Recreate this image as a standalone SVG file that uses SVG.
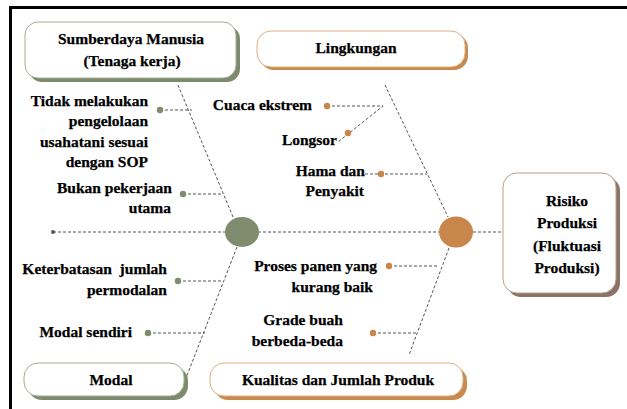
<svg xmlns="http://www.w3.org/2000/svg" width="627" height="409" viewBox="0 0 627 409">
<style>
.t{font-family:"Liberation Serif","Times New Roman",serif;font-weight:bold;font-size:15.5px;fill:#000;stroke:#000;stroke-width:0.25}
.e{text-anchor:end}
.m{text-anchor:middle}
.d{fill:none;stroke:#555;stroke-width:1;stroke-dasharray:3 2}
.box{fill:#fff;stroke-width:1}
.gd{fill:#7f8c6d}
.od{fill:#c8864a}
</style>
<rect width="627" height="409" fill="#fff"/>
<path d="M9 7.5H627M10.5 6V409" stroke="#000" stroke-width="3" fill="none"/>
<g id="connectors">
<line class="d" x1="53" y1="232" x2="503" y2="232"/>
<circle cx="53" cy="232" r="2" fill="#555"/>
<line class="d" x1="178" y1="85" x2="233" y2="217"/>
<line class="d" x1="237" y1="247" x2="186" y2="378"/>
<line class="d" x1="385" y1="85" x2="448" y2="217"/>
<line class="d" x1="449" y1="248" x2="409" y2="355"/>
<line class="d" x1="160" y1="110" x2="192" y2="110"/>
<line class="d" x1="183" y1="194" x2="223" y2="194"/>
<line class="d" x1="178" y1="281" x2="223" y2="281"/>
<line class="d" x1="148" y1="333" x2="205" y2="333"/>
<polyline class="d" points="327,106 383,106 348,134 338,142"/>
<line class="d" x1="365" y1="174" x2="427" y2="174"/>
<line class="d" x1="389" y1="266" x2="438" y2="266"/>
<line class="d" x1="373" y1="333" x2="416" y2="333"/>
<circle class="gd" cx="160" cy="110" r="3.2"/>
<circle class="gd" cx="183" cy="194" r="3.2"/>
<circle class="gd" cx="178" cy="281" r="3.2"/>
<circle class="gd" cx="148" cy="333" r="3.2"/>
<circle class="od" cx="327" cy="106" r="3.2"/>
<circle class="od" cx="348" cy="133" r="3.2"/>
<circle class="od" cx="381" cy="174" r="3.2"/>
<circle class="od" cx="389" cy="266" r="3.2"/>
<circle class="od" cx="373" cy="333" r="3.2"/>
</g>
<g id="node-green-joint"><ellipse class="gd" cx="242" cy="232" rx="17" ry="15"/></g>
<g id="node-orange-joint"><ellipse class="od" cx="456" cy="232" rx="17" ry="15.5"/></g>
<g id="node-sdm">
<rect x="29" y="26" width="211" height="56" rx="13" fill="#7d8a6b"/>
<rect class="box" x="25" y="22" width="211" height="56" rx="13" stroke="#a3ae97"/>
<text class="t m" x="131" y="44">Sumberdaya Manusia</text>
<text class="t m" x="132" y="66">(Tenaga kerja)</text>
</g>
<g id="node-lingkungan">
<rect x="260" y="34" width="208" height="36" rx="14" fill="#c98a4f"/>
<rect class="box" x="257" y="31" width="208" height="36" rx="14" stroke="#e2ad80"/>
<text class="t m" x="356" y="53">Lingkungan</text>
</g>
<g id="node-risiko">
<rect x="507" y="177" width="113" height="120" rx="14" fill="#8c7264"/>
<rect class="box" x="503" y="173" width="113" height="120" rx="14" stroke="#b39e92"/>
<text class="t m" x="567" y="206">Risiko</text>
<text class="t m" x="567" y="228">Produksi</text>
<text class="t m" x="567" y="251">(Fluktuasi</text>
<text class="t m" x="567" y="273">Produksi)</text>
</g>
<g id="node-modal">
<rect x="28" y="367" width="160" height="33" rx="14" fill="#7d8a6b"/>
<rect class="box" x="24" y="363" width="160" height="33" rx="14" stroke="#a3ae97"/>
<text class="t m" x="111" y="385">Modal</text>
</g>
<g id="node-kualitas">
<rect x="214" y="367" width="253" height="33" rx="14" fill="#c98a4f"/>
<rect class="box" x="210" y="363" width="253" height="33" rx="14" stroke="#e2ad80"/>
<text class="t m" x="338" y="385">Kualitas dan Jumlah Produk</text>
</g>
<g id="labels">
<text class="t e" x="148" y="106">Tidak melakukan</text>
<text class="t e" x="148" y="126">pengelolaan</text>
<text class="t e" x="148" y="147">usahatani sesuai</text>
<text class="t e" x="148" y="167">dengan SOP</text>
<text class="t e" x="172" y="193">Bukan pekerjaan</text>
<text class="t e" x="171" y="213">utama</text>
<text class="t e" x="167" y="274" xml:space="preserve">Keterbatasan  jumlah</text>
<text class="t e" x="167" y="295">permodalan</text>
<text class="t e" x="132" y="337">Modal sendiri</text>
<text class="t e" x="312" y="110">Cuaca ekstrem</text>
<text class="t e" x="337" y="145">Longsor</text>
<text class="t e" x="365" y="176">Hama dan</text>
<text class="t e" x="364" y="196">Penyakit</text>
<text class="t e" x="377" y="271">Proses panen yang</text>
<text class="t e" x="373" y="292">kurang baik</text>
<text class="t e" x="343" y="325">Grade buah</text>
<text class="t e" x="343" y="346">berbeda-beda</text>
</g>
</svg>
